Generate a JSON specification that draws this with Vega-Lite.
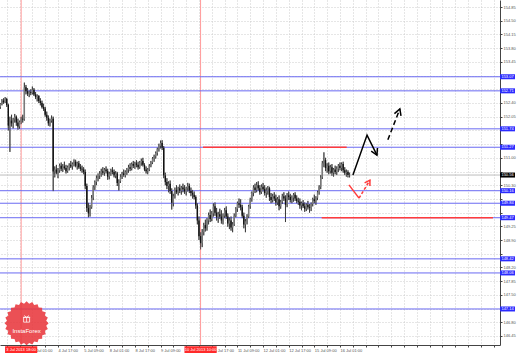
{
"$schema":"https://vega.github.io/schema/vega-lite/v6.json",
"width":500,"height":345,
"autosize":{"type":"none"},
"padding":{"left":0,"top":0,"right":19,"bottom":8},
"background":"#ffffff",
"config":{"view":{"stroke":null},"font":"Liberation Sans"},
"resolve":{"axis":{"x":"independent","y":"independent"}},
"datasets":{
"candles":[
{"i":-20,"o":152.30,"h":152.40,"l":152.25,"c":152.38},
{"i":-19,"o":152.38,"h":152.50,"l":152.34,"c":152.46},
{"i":-18,"o":152.46,"h":152.52,"l":152.38,"c":152.42},
{"i":-17,"o":152.42,"h":152.55,"l":152.40,"c":152.50},
{"i":-16,"o":152.50,"h":152.53,"l":152.30,"c":152.35},
{"i":-15,"o":152.35,"h":152.38,"l":151.70,"c":151.82},
{"i":-14,"o":151.82,"h":152.05,"l":151.15,"c":151.95},
{"i":-13,"o":151.95,"h":152.10,"l":151.80,"c":151.88},
{"i":-12,"o":151.88,"h":152.02,"l":151.75,"c":151.98},
{"i":-11,"o":151.98,"h":152.12,"l":151.90,"c":152.05},
{"i":-10,"o":152.05,"h":152.08,"l":151.82,"c":151.90},
{"i":-9,"o":151.90,"h":152.00,"l":151.72,"c":151.80},
{"i":-8,"o":151.80,"h":151.95,"l":151.74,"c":151.92},
{"i":-7,"o":151.92,"h":152.05,"l":151.86,"c":152.00},
{"i":-6,"o":152.00,"h":152.10,"l":151.90,"c":151.98},
{"i":-5,"o":151.98,"h":152.92,"l":151.95,"c":152.80},
{"i":-4,"o":152.80,"h":152.86,"l":152.62,"c":152.70},
{"i":-3,"o":152.70,"h":152.78,"l":152.58,"c":152.64},
{"i":-2,"o":152.64,"h":152.72,"l":152.55,"c":152.68},
{"i":-1,"o":152.68,"h":152.75,"l":152.60,"c":152.66},
{"i":0,"o":152.66,"h":152.82,"l":152.62,"c":152.74},
{"i":1,"o":152.74,"h":152.78,"l":152.58,"c":152.62},
{"i":2,"o":152.62,"h":152.68,"l":152.50,"c":152.55},
{"i":3,"o":152.55,"h":152.62,"l":152.44,"c":152.58},
{"i":4,"o":152.58,"h":152.60,"l":152.40,"c":152.45},
{"i":5,"o":152.45,"h":152.52,"l":152.34,"c":152.40},
{"i":6,"o":152.40,"h":152.46,"l":152.26,"c":152.30},
{"i":7,"o":152.30,"h":152.38,"l":152.20,"c":152.25},
{"i":8,"o":152.25,"h":152.30,"l":152.05,"c":152.10},
{"i":9,"o":152.10,"h":152.18,"l":151.95,"c":152.02},
{"i":10,"o":152.02,"h":152.08,"l":151.82,"c":151.88},
{"i":11,"o":151.88,"h":152.00,"l":151.80,"c":151.95},
{"i":12,"o":151.95,"h":152.08,"l":151.90,"c":152.00},
{"i":13,"o":152.00,"h":152.05,"l":150.15,"c":150.65},
{"i":14,"o":150.65,"h":150.78,"l":150.50,"c":150.70},
{"i":15,"o":150.70,"h":150.82,"l":150.58,"c":150.62},
{"i":16,"o":150.62,"h":150.74,"l":150.48,"c":150.68},
{"i":17,"o":150.68,"h":150.85,"l":150.62,"c":150.80},
{"i":18,"o":150.80,"h":150.88,"l":150.66,"c":150.72},
{"i":19,"o":150.72,"h":150.84,"l":150.64,"c":150.78},
{"i":20,"o":150.78,"h":150.90,"l":150.70,"c":150.74},
{"i":21,"o":150.74,"h":150.82,"l":150.60,"c":150.66},
{"i":22,"o":150.66,"h":150.80,"l":150.62,"c":150.76},
{"i":23,"o":150.76,"h":150.86,"l":150.68,"c":150.82},
{"i":24,"o":150.82,"h":150.92,"l":150.74,"c":150.78},
{"i":25,"o":150.78,"h":150.88,"l":150.70,"c":150.84},
{"i":26,"o":150.84,"h":150.96,"l":150.78,"c":150.90},
{"i":27,"o":150.90,"h":150.95,"l":150.76,"c":150.80},
{"i":28,"o":150.80,"h":150.90,"l":150.70,"c":150.86},
{"i":29,"o":150.86,"h":150.92,"l":150.72,"c":150.76},
{"i":30,"o":150.76,"h":150.84,"l":150.66,"c":150.72},
{"i":31,"o":150.72,"h":150.80,"l":150.62,"c":150.70},
{"i":32,"o":150.70,"h":150.76,"l":150.58,"c":150.64},
{"i":33,"o":150.64,"h":150.70,"l":150.20,"c":150.28},
{"i":34,"o":150.28,"h":150.34,"l":149.62,"c":149.72},
{"i":35,"o":149.72,"h":149.85,"l":149.48,"c":149.58},
{"i":36,"o":149.58,"h":149.80,"l":149.50,"c":149.74},
{"i":37,"o":149.74,"h":150.05,"l":149.70,"c":149.98},
{"i":38,"o":149.98,"h":150.30,"l":149.92,"c":150.25},
{"i":39,"o":150.25,"h":150.42,"l":150.18,"c":150.38},
{"i":40,"o":150.38,"h":150.55,"l":150.30,"c":150.48},
{"i":41,"o":150.48,"h":150.60,"l":150.40,"c":150.55},
{"i":42,"o":150.55,"h":150.66,"l":150.46,"c":150.60},
{"i":43,"o":150.60,"h":150.72,"l":150.52,"c":150.66},
{"i":44,"o":150.66,"h":150.76,"l":150.56,"c":150.62},
{"i":45,"o":150.62,"h":150.74,"l":150.54,"c":150.70},
{"i":46,"o":150.70,"h":150.78,"l":150.60,"c":150.66},
{"i":47,"o":150.66,"h":150.72,"l":150.44,"c":150.52},
{"i":48,"o":150.52,"h":150.64,"l":150.45,"c":150.60},
{"i":49,"o":150.60,"h":150.72,"l":150.54,"c":150.68},
{"i":50,"o":150.68,"h":150.76,"l":150.58,"c":150.64},
{"i":51,"o":150.64,"h":150.70,"l":150.50,"c":150.55},
{"i":52,"o":150.55,"h":150.66,"l":150.48,"c":150.60},
{"i":53,"o":150.60,"h":150.64,"l":150.28,"c":150.36},
{"i":54,"o":150.36,"h":150.45,"l":150.16,"c":150.40},
{"i":55,"o":150.40,"h":150.58,"l":150.36,"c":150.52},
{"i":56,"o":150.52,"h":150.64,"l":150.46,"c":150.60},
{"i":57,"o":150.60,"h":150.70,"l":150.52,"c":150.56},
{"i":58,"o":150.56,"h":150.68,"l":150.50,"c":150.64},
{"i":59,"o":150.64,"h":150.74,"l":150.56,"c":150.70},
{"i":60,"o":150.70,"h":150.82,"l":150.62,"c":150.76},
{"i":61,"o":150.76,"h":150.86,"l":150.66,"c":150.72},
{"i":62,"o":150.72,"h":150.88,"l":150.68,"c":150.84},
{"i":63,"o":150.84,"h":150.92,"l":150.74,"c":150.80},
{"i":64,"o":150.80,"h":150.90,"l":150.72,"c":150.86},
{"i":65,"o":150.86,"h":150.94,"l":150.76,"c":150.82},
{"i":66,"o":150.82,"h":150.90,"l":150.70,"c":150.76},
{"i":67,"o":150.76,"h":150.92,"l":150.72,"c":150.88},
{"i":68,"o":150.88,"h":150.98,"l":150.80,"c":150.92},
{"i":69,"o":150.92,"h":151.00,"l":150.78,"c":150.82},
{"i":70,"o":150.82,"h":150.86,"l":150.66,"c":150.70},
{"i":71,"o":150.70,"h":150.78,"l":150.60,"c":150.66},
{"i":72,"o":150.66,"h":150.74,"l":150.58,"c":150.70},
{"i":73,"o":150.70,"h":150.84,"l":150.66,"c":150.80},
{"i":74,"o":150.80,"h":150.92,"l":150.76,"c":150.88},
{"i":75,"o":150.88,"h":151.02,"l":150.84,"c":150.98},
{"i":76,"o":150.98,"h":151.08,"l":150.90,"c":151.04},
{"i":77,"o":151.04,"h":151.16,"l":150.98,"c":151.12},
{"i":78,"o":151.12,"h":151.26,"l":151.06,"c":151.22},
{"i":79,"o":151.22,"h":151.36,"l":151.16,"c":151.30},
{"i":80,"o":151.30,"h":151.44,"l":151.24,"c":151.38},
{"i":81,"o":151.38,"h":151.45,"l":151.20,"c":151.26},
{"i":82,"o":151.26,"h":151.30,"l":150.48,"c":150.55},
{"i":83,"o":150.55,"h":150.62,"l":150.30,"c":150.38},
{"i":84,"o":150.38,"h":150.48,"l":150.20,"c":150.28},
{"i":85,"o":150.28,"h":150.40,"l":150.12,"c":150.34},
{"i":86,"o":150.34,"h":150.42,"l":150.08,"c":150.15},
{"i":87,"o":150.15,"h":150.22,"l":149.68,"c":149.85},
{"i":88,"o":149.85,"h":150.08,"l":149.76,"c":150.02},
{"i":89,"o":150.02,"h":150.24,"l":149.96,"c":150.18},
{"i":90,"o":150.18,"h":150.30,"l":150.08,"c":150.12},
{"i":91,"o":150.12,"h":150.26,"l":150.04,"c":150.22},
{"i":92,"o":150.22,"h":150.32,"l":150.10,"c":150.16},
{"i":93,"o":150.16,"h":150.28,"l":150.06,"c":150.24},
{"i":94,"o":150.24,"h":150.34,"l":150.12,"c":150.20},
{"i":95,"o":150.20,"h":150.30,"l":150.08,"c":150.14},
{"i":96,"o":150.14,"h":150.26,"l":150.04,"c":150.22},
{"i":97,"o":150.22,"h":150.36,"l":150.14,"c":150.28},
{"i":98,"o":150.28,"h":150.34,"l":150.10,"c":150.16},
{"i":99,"o":150.16,"h":150.24,"l":150.02,"c":150.10},
{"i":100,"o":150.10,"h":150.18,"l":149.96,"c":150.06},
{"i":101,"o":150.06,"h":150.14,"l":149.94,"c":150.00},
{"i":102,"o":150.00,"h":150.04,"l":149.70,"c":149.78},
{"i":103,"o":149.78,"h":149.84,"l":149.30,"c":149.40},
{"i":104,"o":149.40,"h":149.50,"l":148.90,"c":149.00},
{"i":105,"o":149.00,"h":149.10,"l":148.66,"c":148.82},
{"i":106,"o":148.82,"h":149.18,"l":148.72,"c":149.10},
{"i":107,"o":149.10,"h":149.34,"l":149.02,"c":149.28},
{"i":108,"o":149.28,"h":149.42,"l":149.12,"c":149.20},
{"i":109,"o":149.20,"h":149.46,"l":149.14,"c":149.40},
{"i":110,"o":149.40,"h":149.60,"l":149.30,"c":149.54},
{"i":111,"o":149.54,"h":149.68,"l":149.36,"c":149.44},
{"i":112,"o":149.44,"h":149.64,"l":149.38,"c":149.58},
{"i":113,"o":149.58,"h":149.84,"l":149.50,"c":149.76},
{"i":114,"o":149.76,"h":149.86,"l":149.52,"c":149.60},
{"i":115,"o":149.60,"h":149.72,"l":149.40,"c":149.48},
{"i":116,"o":149.48,"h":149.62,"l":149.34,"c":149.56},
{"i":117,"o":149.56,"h":149.70,"l":149.44,"c":149.50},
{"i":118,"o":149.50,"h":149.66,"l":149.32,"c":149.40},
{"i":119,"o":149.40,"h":149.58,"l":149.30,"c":149.52},
{"i":120,"o":149.52,"h":149.72,"l":149.46,"c":149.66},
{"i":121,"o":149.66,"h":149.76,"l":149.44,"c":149.50},
{"i":122,"o":149.50,"h":149.58,"l":149.24,"c":149.32},
{"i":123,"o":149.32,"h":149.48,"l":149.18,"c":149.40},
{"i":124,"o":149.40,"h":149.50,"l":149.14,"c":149.22},
{"i":125,"o":149.22,"h":149.36,"l":149.10,"c":149.30},
{"i":126,"o":149.30,"h":149.58,"l":149.26,"c":149.52},
{"i":127,"o":149.52,"h":149.74,"l":149.48,"c":149.70},
{"i":128,"o":149.70,"h":149.88,"l":149.62,"c":149.84},
{"i":129,"o":149.84,"h":149.96,"l":149.72,"c":149.80},
{"i":130,"o":149.80,"h":149.94,"l":149.66,"c":149.74},
{"i":131,"o":149.74,"h":149.80,"l":149.46,"c":149.52},
{"i":132,"o":149.52,"h":149.60,"l":149.20,"c":149.30},
{"i":133,"o":149.30,"h":149.44,"l":149.10,"c":149.38},
{"i":134,"o":149.38,"h":149.56,"l":149.30,"c":149.50},
{"i":135,"o":149.50,"h":149.80,"l":149.46,"c":149.76},
{"i":136,"o":149.76,"h":149.98,"l":149.70,"c":149.94},
{"i":137,"o":149.94,"h":150.14,"l":149.88,"c":150.10},
{"i":138,"o":150.10,"h":150.30,"l":150.02,"c":150.24},
{"i":139,"o":150.24,"h":150.34,"l":150.10,"c":150.18},
{"i":140,"o":150.18,"h":150.38,"l":150.12,"c":150.30},
{"i":141,"o":150.30,"h":150.40,"l":150.16,"c":150.22},
{"i":142,"o":150.22,"h":150.30,"l":150.06,"c":150.12},
{"i":143,"o":150.12,"h":150.32,"l":150.08,"c":150.26},
{"i":144,"o":150.26,"h":150.36,"l":150.14,"c":150.20},
{"i":145,"o":150.20,"h":150.30,"l":150.04,"c":150.10},
{"i":146,"o":150.10,"h":150.24,"l":149.98,"c":150.16},
{"i":147,"o":150.16,"h":150.28,"l":150.06,"c":150.22},
{"i":148,"o":150.22,"h":150.26,"l":149.90,"c":150.00},
{"i":149,"o":150.00,"h":150.10,"l":149.84,"c":149.92},
{"i":150,"o":149.92,"h":150.08,"l":149.86,"c":150.02},
{"i":151,"o":150.02,"h":150.12,"l":149.90,"c":149.96},
{"i":152,"o":149.96,"h":150.06,"l":149.78,"c":149.86},
{"i":153,"o":149.86,"h":150.00,"l":149.80,"c":149.94},
{"i":154,"o":149.94,"h":150.04,"l":149.66,"c":149.76},
{"i":155,"o":149.76,"h":149.92,"l":149.70,"c":149.88},
{"i":156,"o":149.88,"h":150.08,"l":149.82,"c":150.02},
{"i":157,"o":150.02,"h":150.12,"l":149.90,"c":149.96},
{"i":158,"o":149.96,"h":150.04,"l":149.36,"c":149.80},
{"i":159,"o":149.80,"h":150.10,"l":149.74,"c":150.04},
{"i":160,"o":150.04,"h":150.14,"l":149.92,"c":150.00},
{"i":161,"o":150.00,"h":150.08,"l":149.86,"c":149.92},
{"i":162,"o":149.92,"h":150.04,"l":149.84,"c":149.98},
{"i":163,"o":149.98,"h":150.10,"l":149.88,"c":150.06},
{"i":164,"o":150.06,"h":150.12,"l":149.90,"c":149.96},
{"i":165,"o":149.96,"h":150.04,"l":149.84,"c":149.90},
{"i":166,"o":149.90,"h":149.98,"l":149.80,"c":149.88},
{"i":167,"o":149.88,"h":149.96,"l":149.70,"c":149.78},
{"i":168,"o":149.78,"h":149.88,"l":149.66,"c":149.84},
{"i":169,"o":149.84,"h":149.92,"l":149.72,"c":149.76},
{"i":170,"o":149.76,"h":149.86,"l":149.62,"c":149.70},
{"i":171,"o":149.70,"h":149.84,"l":149.64,"c":149.80},
{"i":172,"o":149.80,"h":149.90,"l":149.68,"c":149.74},
{"i":173,"o":149.74,"h":149.82,"l":149.60,"c":149.72},
{"i":174,"o":149.72,"h":149.86,"l":149.64,"c":149.82},
{"i":175,"o":149.82,"h":149.98,"l":149.76,"c":149.94},
{"i":176,"o":149.94,"h":150.06,"l":149.84,"c":149.90},
{"i":177,"o":149.90,"h":150.02,"l":149.80,"c":149.98},
{"i":178,"o":149.98,"h":150.16,"l":149.92,"c":150.12},
{"i":179,"o":150.12,"h":150.30,"l":150.06,"c":150.26},
{"i":180,"o":150.26,"h":150.56,"l":150.20,"c":150.50},
{"i":181,"o":150.50,"h":150.92,"l":150.46,"c":150.86},
{"i":182,"o":150.86,"h":151.14,"l":150.76,"c":150.94},
{"i":183,"o":150.94,"h":151.00,"l":150.66,"c":150.74},
{"i":184,"o":150.74,"h":150.86,"l":150.62,"c":150.80},
{"i":185,"o":150.80,"h":150.88,"l":150.58,"c":150.66},
{"i":186,"o":150.66,"h":150.82,"l":150.60,"c":150.76},
{"i":187,"o":150.76,"h":150.84,"l":150.54,"c":150.62},
{"i":188,"o":150.62,"h":150.74,"l":150.52,"c":150.70},
{"i":189,"o":150.70,"h":150.80,"l":150.58,"c":150.64},
{"i":190,"o":150.64,"h":150.78,"l":150.56,"c":150.72},
{"i":191,"o":150.72,"h":150.84,"l":150.64,"c":150.80},
{"i":192,"o":150.80,"h":150.88,"l":150.68,"c":150.74},
{"i":193,"o":150.74,"h":150.88,"l":150.66,"c":150.84},
{"i":194,"o":150.84,"h":150.90,"l":150.62,"c":150.68},
{"i":195,"o":150.68,"h":150.76,"l":150.56,"c":150.62},
{"i":196,"o":150.62,"h":150.70,"l":150.52,"c":150.64},
{"i":197,"o":150.64,"h":150.68,"l":150.50,"c":150.56},
{"i":198,"o":150.56,"h":150.62,"l":150.50,"c":150.56}
],
"levels":[{"p":153.07},{"p":152.71},{"p":151.74},{"p":151.27},{"p":150.16},{"p":149.84},{"p":149.47},{"p":148.42},{"p":148.06},{"p":147.14}],
"bid":[{"p":150.56}],
"redh":[{"i":106.5,"i2":196.2,"p":151.27},{"i":180.6,"i2":287.5,"p":149.47}],
"redv":[{"i":-7,"t":"3 Jul 2013 18:00"},{"i":105,"t":"10 Jul 2013 10:00"}],
"arrowBlack":[
{"g":"a","k":0,"i":200.1,"p":150.56},{"g":"a","k":1,"i":208.9,"p":151.58},{"g":"a","k":2,"i":215.1,"p":151.07},
{"g":"b","k":0,"i":211.5,"p":151.17},{"g":"b","k":1,"i":215.1,"p":151.07},{"g":"b","k":2,"i":215.4,"p":151.25},
{"g":"c","k":0,"i":226.0,"p":152.13},{"g":"c","k":1,"i":229.4,"p":152.25},{"g":"c","k":2,"i":230.1,"p":152.07}
],
"arrowBlackDash":[{"g":"d","k":0,"i":221.9,"p":151.46},{"g":"d","k":1,"i":229.4,"p":152.25}],
"arrowRed":[
{"g":"e","k":0,"i":197.6,"p":150.31},{"g":"e","k":1,"i":203.9,"p":149.97},
{"g":"f","k":0,"i":207.4,"p":150.36},{"g":"f","k":1,"i":210.7,"p":150.43},{"g":"f","k":2,"i":210.7,"p":150.28}
],
"arrowRedDash":[{"g":"h","k":0,"i":203.9,"p":149.97},{"g":"h","k":1,"i":210.7,"p":150.43}]
},
"layer":[
{"data":{"name":"candles"},"mark":{"type":"rule","color":"#333333","strokeWidth":0.8},
 "encoding":{
  "x":{"field":"i","type":"quantitative","scale":{"domain":[-20.2,291.9],"nice":false,"zero":false},
   "axis":{"orient":"bottom","title":null,"values":[-16,-8,0,8,16,24,32,40,48,56,64,72,80,88,96,104,112,120,128,136,144,152,160,168,176,184,192,200,208,216,224,232,240,248,256,264,272,280,288],
    "grid":true,"gridColor":"#cccccc","gridDash":[1,2],"gridWidth":1,"domainColor":"#444444","tickColor":"#444444","tickSize":2,
    "labelFontSize":4,"labelColor":"#555555","labelAlign":"left","labelBaseline":"top","labelPadding":1,"labelOverlap":false,"labelFlush":false,"labelBound":false,
    "labelExpr":"(datum.value % 16 == 0 && datum.value >= -16 && datum.value <= 192) ? ['','4 Jul 01:00','4 Jul 17:00','5 Jul 09:00','8 Jul 01:00','8 Jul 17:00','9 Jul 09:00','','10 Jul 17:00','11 Jul 09:00','12 Jul 01:00','12 Jul 17:00','15 Jul 09:00','16 Jul 01:00'][datum.value/16+1] : ''"}},
  "y":{"field":"l","type":"quantitative","scale":{"domain":[146.22,155.03],"nice":false,"zero":false},
   "axis":{"orient":"right","title":null,"values":[146.45,146.8,147.15,147.5,147.85,148.2,148.55,148.9,149.25,149.6,149.95,150.3,150.65,151,151.35,151.7,152.05,152.4,152.75,153.1,153.45,153.8,154.15,154.5,154.85],
    "labelExpr":"indexof([153.1,152.75,151.7,151.35,150.65,149.95,149.6,148.55,147.15], datum.value) >= 0 ? '' : format(datum.value, '.2f')",
    "grid":true,"gridColor":"#cccccc","gridDash":[1,2],"gridWidth":1,"domainColor":"#444444","tickColor":"#444444","tickSize":2,
    "labelFontSize":4,"labelColor":"#555555","labelAlign":"left","labelBaseline":"middle","labelPadding":1,"labelOverlap":false,"labelFlush":false,"labelBound":false}},
  "y2":{"field":"h"}}},
{"data":{"name":"redv"},"mark":{"type":"rule","color":"#ff9a9a","strokeWidth":1},
 "encoding":{"x":{"field":"i","type":"quantitative","scale":{"domain":[-20.2,291.9],"nice":false,"zero":false},"axis":null}}},
{"data":{"name":"levels"},"mark":{"type":"rule","color":"#6a6af2","strokeWidth":1},
 "encoding":{"y":{"field":"p","type":"quantitative","scale":{"domain":[146.22,155.03],"nice":false,"zero":false},"axis":null}}},
{"data":{"name":"bid"},"mark":{"type":"rule","color":"#bdbdbd","strokeWidth":1},
 "encoding":{"y":{"field":"p","type":"quantitative","scale":{"domain":[146.22,155.03],"nice":false,"zero":false},"axis":null}}},
{"data":{"name":"candles"},"mark":{"type":"rule","color":"#333333","strokeWidth":0.8},
 "encoding":{
  "x":{"field":"i","type":"quantitative","scale":{"domain":[-20.2,291.9],"nice":false,"zero":false},"axis":null},
  "y":{"field":"l","type":"quantitative","scale":{"domain":[146.22,155.03],"nice":false,"zero":false},"axis":null},
  "y2":{"field":"h"}}},
{"data":{"name":"candles"},"mark":{"type":"rule","strokeWidth":1.4},
 "encoding":{
  "x":{"field":"i","type":"quantitative","scale":{"domain":[-20.2,291.9],"nice":false,"zero":false},"axis":null},
  "y":{"field":"o","type":"quantitative","scale":{"domain":[146.22,155.03],"nice":false,"zero":false},"axis":null},
  "y2":{"field":"c"},
  "color":{"condition":{"test":"datum.c >= datum.o","value":"#7a7a7a"},"value":"#111111"}}},
{"data":{"name":"redh"},"mark":{"type":"rule","color":"#ff3b3b","strokeWidth":1.5},
 "encoding":{
  "x":{"field":"i","type":"quantitative","scale":{"domain":[-20.2,291.9],"nice":false,"zero":false},"axis":null},
  "x2":{"field":"i2"},
  "y":{"field":"p","type":"quantitative","scale":{"domain":[146.22,155.03],"nice":false,"zero":false},"axis":null}}},
{"data":{"name":"arrowBlack"},"mark":{"type":"line","color":"#000000","strokeWidth":1.5},
 "encoding":{
  "x":{"field":"i","type":"quantitative","scale":{"domain":[-20.2,291.9],"nice":false,"zero":false},"axis":null},
  "y":{"field":"p","type":"quantitative","scale":{"domain":[146.22,155.03],"nice":false,"zero":false},"axis":null},
  "detail":{"field":"g"},"order":{"field":"k"}}},
{"data":{"name":"arrowBlackDash"},"mark":{"type":"line","color":"#000000","strokeWidth":1.5,"strokeDash":[5,3]},
 "encoding":{
  "x":{"field":"i","type":"quantitative","scale":{"domain":[-20.2,291.9],"nice":false,"zero":false},"axis":null},
  "y":{"field":"p","type":"quantitative","scale":{"domain":[146.22,155.03],"nice":false,"zero":false},"axis":null},
  "detail":{"field":"g"},"order":{"field":"k"}}},
{"data":{"name":"arrowRed"},"mark":{"type":"line","color":"#ff3b3b","strokeWidth":1.5},
 "encoding":{
  "x":{"field":"i","type":"quantitative","scale":{"domain":[-20.2,291.9],"nice":false,"zero":false},"axis":null},
  "y":{"field":"p","type":"quantitative","scale":{"domain":[146.22,155.03],"nice":false,"zero":false},"axis":null},
  "detail":{"field":"g"},"order":{"field":"k"}}},
{"data":{"name":"arrowRedDash"},"mark":{"type":"line","color":"#ff3b3b","strokeWidth":1.5,"strokeDash":[3,2]},
 "encoding":{
  "x":{"field":"i","type":"quantitative","scale":{"domain":[-20.2,291.9],"nice":false,"zero":false},"axis":null},
  "y":{"field":"p","type":"quantitative","scale":{"domain":[146.22,155.03],"nice":false,"zero":false},"axis":null},
  "detail":{"field":"g"},"order":{"field":"k"}}},
{"data":{"name":"levels"},"mark":{"type":"point","shape":"M-3,-1H3V1H-3Z","size":25,"filled":true,"color":"#2b2bff","opacity":1,"strokeWidth":0},
 "encoding":{
  "x":{"datum":296.6,"type":"quantitative","scale":{"domain":[-20.2,291.9],"nice":false,"zero":false},"axis":null},
  "y":{"field":"p","type":"quantitative","scale":{"domain":[146.22,155.03],"nice":false,"zero":false},"axis":null}}},
{"data":{"name":"bid"},"mark":{"type":"point","shape":"M-3,-1H3V1H-3Z","size":25,"filled":true,"color":"#000000","opacity":1,"strokeWidth":0},
 "encoding":{
  "x":{"datum":296.6,"type":"quantitative","scale":{"domain":[-20.2,291.9],"nice":false,"zero":false},"axis":null},
  "y":{"field":"p","type":"quantitative","scale":{"domain":[146.22,155.03],"nice":false,"zero":false},"axis":null}}},
{"data":{"name":"levels"},"mark":{"type":"text","fontSize":4,"color":"#ffffff","align":"center","baseline":"middle"},
 "encoding":{
  "x":{"datum":296.6,"type":"quantitative","scale":{"domain":[-20.2,291.9],"nice":false,"zero":false},"axis":null},
  "y":{"field":"p","type":"quantitative","scale":{"domain":[146.22,155.03],"nice":false,"zero":false},"axis":null},
  "text":{"field":"p","type":"quantitative","format":".2f"}}},
{"data":{"name":"bid"},"mark":{"type":"text","fontSize":4,"color":"#ffffff","align":"center","baseline":"middle"},
 "encoding":{
  "x":{"datum":296.6,"type":"quantitative","scale":{"domain":[-20.2,291.9],"nice":false,"zero":false},"axis":null},
  "y":{"field":"p","type":"quantitative","scale":{"domain":[146.22,155.03],"nice":false,"zero":false},"axis":null},
  "text":{"field":"p","type":"quantitative","format":".2f"}}},
{"data":{"name":"redv"},"mark":{"type":"point","shape":"M-4.6,-1H4.6V1H-4.6Z","size":49,"filled":true,"color":"#ff2a2a","opacity":1,"strokeWidth":0},
 "encoding":{
  "x":{"field":"i","type":"quantitative","scale":{"domain":[-20.2,291.9],"nice":false,"zero":false},"axis":null},
  "y":{"datum":146.1,"type":"quantitative","scale":{"domain":[146.22,155.03],"nice":false,"zero":false},"axis":null}}},
{"data":{"name":"redv"},"mark":{"type":"text","fontSize":4,"color":"#ffffff","align":"center","baseline":"middle"},
 "encoding":{
  "x":{"field":"i","type":"quantitative","scale":{"domain":[-20.2,291.9],"nice":false,"zero":false},"axis":null},
  "y":{"datum":146.1,"type":"quantitative","scale":{"domain":[146.22,155.03],"nice":false,"zero":false},"axis":null},
  "text":{"field":"t"}}},
{"data":{"values":[{}]},"mark":{"type":"point","shape":"M1,0L.892,.117L.966,.259L.832,.344L.866,.5L.714,.548L.707,.707L.548,.714L.5,.866L.344,.832L.259,.966L.117,.892L0,1L-.117,.892L-.259,.966L-.344,.832L-.5,.866L-.548,.714L-.707,.707L-.714,.548L-.866,.5L-.832,.344L-.966,.259L-.892,.117L-1,0L-.892,-.117L-.966,-.259L-.832,-.344L-.866,-.5L-.714,-.548L-.707,-.707L-.548,-.714L-.5,-.866L-.344,-.832L-.259,-.966L-.117,-.892L0,-1L.117,-.892L.259,-.966L.344,-.832L.5,-.866L.548,-.714L.707,-.707L.714,-.548L.866,-.5L.832,-.344L.966,-.259L.892,-.117Z","size":1936,"filled":true,"color":"#e8383d","opacity":0.88,"strokeWidth":0},
 "encoding":{
  "x":{"datum":-3.6,"type":"quantitative","scale":{"domain":[-20.2,291.9],"nice":false,"zero":false},"axis":null},
  "y":{"datum":146.775,"type":"quantitative","scale":{"domain":[146.22,155.03],"nice":false,"zero":false},"axis":null}}},
{"data":{"values":[{}]},"mark":{"type":"point","shape":"M-1,-0.6H1V1H-1Z M-1.2,-0.6H1.2 M0,-0.6V1 M0,-0.6L-0.8,-1.2 M0,-0.6L0.8,-1.2","size":36,"filled":false,"color":"#ffffff","opacity":0.95,"strokeWidth":0.8},
 "encoding":{
  "x":{"datum":-3.6,"type":"quantitative","scale":{"domain":[-20.2,291.9],"nice":false,"zero":false},"axis":null},
  "y":{"datum":146.88,"type":"quantitative","scale":{"domain":[146.22,155.03],"nice":false,"zero":false},"axis":null}}},
{"data":{"values":[{"t":"InstaForex"}]},"mark":{"type":"text","fontSize":6,"color":"#ffffff","align":"center","baseline":"middle"},
 "encoding":{
  "x":{"datum":-3.6,"type":"quantitative","scale":{"domain":[-20.2,291.9],"nice":false,"zero":false},"axis":null},
  "y":{"datum":146.566,"type":"quantitative","scale":{"domain":[146.22,155.03],"nice":false,"zero":false},"axis":null},
  "text":{"field":"t"}}}
]
}
